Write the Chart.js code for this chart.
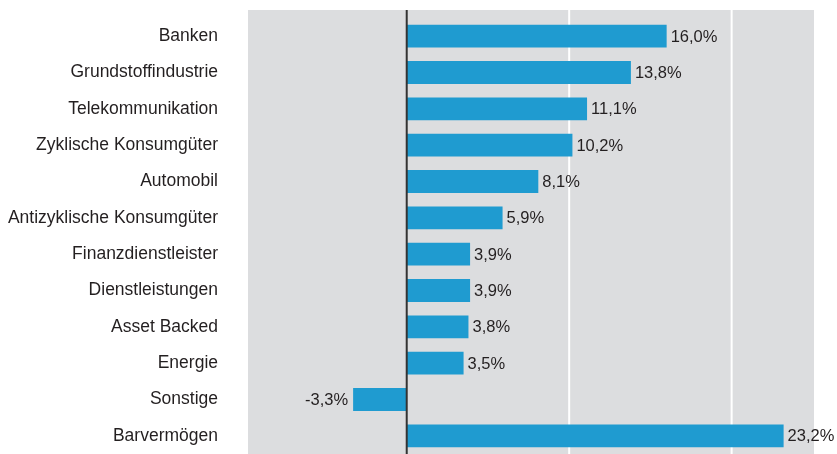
<!DOCTYPE html>
<html>
<head>
<meta charset="utf-8">
<script src="https://cdn.jsdelivr.net/npm/chart.js@4"></script>
<style>
  html, body { margin: 0; padding: 0; background: #fff; }
</style>
</head>
<body>
<canvas id="sectorChart" width="837" height="454"></canvas>
<script>
// --- Data ---
const sectors = [
    'Banken',
    'Grundstoffindustrie',
    'Telekommunikation',
    'Zyklische Konsumgüter',
    'Automobil',
    'Antizyklische Konsumgüter',
    'Finanzdienstleister',
    'Dienstleistungen',
    'Asset Backed',
    'Energie',
    'Sonstige',
    'Barvermögen'
];
const weights = [16.0, 13.8, 11.1, 10.2, 8.1, 5.9, 3.9, 3.9, 3.8, 3.5, -3.3, 23.2];
const gridValues = [0, 10, 20];

// --- Style ---
const barColor = '#1f9bd0';
const plotBg = '#dcdddf';
const textColor = '#231f20';
const fontFamily = '"Liberation Sans", Arial, sans-serif';
const fontSize = 17.5;
const labelFontSize = 16.5;
const plotTop = 10; // grey panel starts a little above the first category band

function formatPct(v) {
    return v.toFixed(1).replace('.', ',') + '%';
}

// grey plot background, gridlines over the full panel height
const plotBackground = {
    id: 'plotBackground',
    beforeDatasetsDraw(chart) {
        const a = chart.chartArea;
        const c = chart.ctx;
        const xs = chart.scales.x;
        c.save();
        c.fillStyle = plotBg;
        c.fillRect(a.left, plotTop, a.right - a.left, a.bottom - plotTop);
        c.strokeStyle = '#ffffff';
        c.lineWidth = 2;
        gridValues.filter(v => v !== 0).forEach(v => {
            const x = xs.getPixelForValue(v);
            c.beginPath();
            c.moveTo(x, plotTop);
            c.lineTo(x, a.bottom);
            c.stroke();
        });
        c.restore();
    }
};

// zero line + value labels on top of the bars
const barLabels = {
    id: 'barLabels',
    afterDatasetsDraw(chart) {
        const c = chart.ctx;
        const a = chart.chartArea;
        const x0 = chart.scales.x.getPixelForValue(0);
        c.save();
        c.strokeStyle = '#333333';
        c.lineWidth = 2;
        c.beginPath();
        c.moveTo(x0, plotTop);
        c.lineTo(x0, a.bottom);
        c.stroke();

        c.font = labelFontSize + 'px ' + fontFamily;
        c.fillStyle = textColor;
        c.textBaseline = 'middle';
        const meta = chart.getDatasetMeta(0);
        meta.data.forEach((bar, i) => {
            const v = weights[i];
            if (v >= 0) {
                c.textAlign = 'left';
                c.fillText(formatPct(v), bar.x + 4, bar.y + 1);
            } else {
                c.textAlign = 'right';
                c.fillText(formatPct(v), bar.x - 5, bar.y + 1);
            }
        });
        c.restore();
    }
};

const ctx = document.getElementById('sectorChart').getContext('2d');
new Chart(ctx, {
    type: 'bar',
    data: {
        labels: sectors,
        datasets: [{
            data: weights,
            backgroundColor: barColor,
            borderWidth: 0,
            categoryPercentage: 1,
            barPercentage: 0.63
        }]
    },
    options: {
        indexAxis: 'y',
        responsive: false,
        animation: false,
        layout: { padding: { top: 18, right: 23, bottom: 0, left: 0 } },
        plugins: {
            legend: { display: false },
            tooltip: { enabled: false }
        },
        scales: {
            x: {
                type: 'linear',
                min: -9.77,
                max: 25.07,
                afterFit: axis => {
                    axis.height = 0;
                    axis.paddingLeft = 0;
                    axis.paddingRight = 0;
                },
                ticks: { display: false },
                border: { display: false },
                grid: { display: false }
            },
            y: {
                afterFit: axis => {
                    axis.width = 248;
                    axis.paddingTop = 0;
                    axis.paddingBottom = 0;
                },
                border: { display: false },
                grid: { display: false, drawTicks: false },
                ticks: {
                    color: textColor,
                    padding: 30,
                    font: { family: fontFamily, size: fontSize }
                }
            }
        }
    },
    plugins: [plotBackground, barLabels]
});
</script>
</body>
</html>
